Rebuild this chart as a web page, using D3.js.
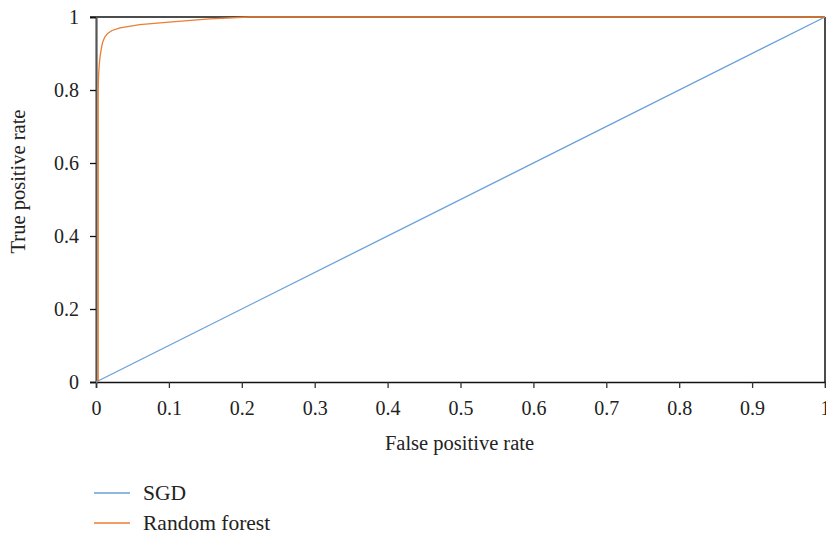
<!DOCTYPE html>
<html>
<head>
<meta charset="utf-8">
<script src="https://cdn.jsdelivr.net/npm/d3@7"></script>
<style>
  body { margin: 0; background: #fff; }
  svg text { font-family: "Liberation Serif", "DejaVu Serif", serif; fill: #222; }
</style>
</head>
<body>
<div id="chart"></div>
<script>
// ROC curves
var sgdFpr = [0, 1];
var sgdTpr = [0, 1];

var rfFpr = [0.003, 0.003, 0.0035, 0.0045, 0.0055, 0.007, 0.009, 0.012, 0.016, 0.022, 0.033, 0.06, 0.1, 0.156, 0.21, 1];
var rfTpr = [0, 0.8, 0.84, 0.87, 0.89, 0.91, 0.93, 0.945, 0.955, 0.963, 0.97, 0.979, 0.986, 0.995, 1, 1];

var xTicks = [0, 0.1, 0.2, 0.3, 0.4, 0.5, 0.6, 0.7, 0.8, 0.9, 1];
var yTicks = [0, 0.2, 0.4, 0.6, 0.8, 1];

var seriesNames = ["SGD", "Random forest"];
var seriesColors = ["#6a9fd8", "#ed7d31"];

var margin = { top: 17, right: 1, bottom: 155, left: 96 },
  width = 826 - margin.left - margin.right,
  height = 537 - margin.top - margin.bottom;

var svg = d3
  .select("#chart")
  .append("svg")
  .attr("width", 826)
  .attr("height", 537)
  .append("g")
  .attr("transform", "translate(" + margin.left + "," + margin.top + ")");

var x = d3.scaleLinear().domain([0, 1]).range([0, width]);
var y = d3.scaleLinear().domain([0, 1]).range([height, 0]);

// frame top and right
svg.append("line").attr("x1", -6).attr("x2", width).attr("y1", 0).attr("y2", 0)
  .attr("stroke", "#111").attr("stroke-width", 1.5);
svg.append("line").attr("x1", width).attr("x2", width).attr("y1", 0).attr("y2", height)
  .attr("stroke", "#111").attr("stroke-width", 1.5);

// X axis
var xAxis = svg
  .append("g")
  .attr("transform", "translate(0," + height + ")")
  .call(d3.axisBottom(x).tickValues(xTicks).tickSize(6).tickPadding(13)
    .tickFormat(function (d) { return d3.format("")(d); }));
xAxis.select(".domain").attr("stroke", "#111").attr("stroke-width", 1.5);
xAxis.selectAll(".tick line").attr("stroke", "#333").attr("stroke-width", 1.3);
xAxis.selectAll("text").style("font-size", "20px");

// Y axis
var yAxis = svg
  .append("g")
  .call(d3.axisLeft(y).tickValues(yTicks).tickSize(6).tickPadding(11)
    .tickFormat(function (d) { return d3.format("")(d); }));
yAxis.select(".domain").attr("stroke", "#555").attr("stroke-width", 2.2);
yAxis.selectAll(".tick line").attr("stroke", "#111").attr("stroke-width", 1.3);
yAxis.selectAll("text").style("font-size", "20px");

// axis labels
svg.append("text")
  .attr("text-anchor", "middle")
  .attr("x", width / 2 - 1)
  .attr("y", height + 68)
  .style("font-size", "20.5px")
  .text("False positive rate");

svg.append("text")
  .attr("text-anchor", "middle")
  .attr("transform", "rotate(-90)")
  .attr("x", -height / 2 + 18)
  .attr("y", -71)
  .style("font-size", "20.5px")
  .text("True positive rate");

var series = [
  d3.zip(sgdFpr, sgdTpr),
  d3.zip(rfFpr, rfTpr)
];

svg.selectAll(".roc")
  .data(series)
  .enter()
  .append("path")
  .attr("class", "roc")
  .attr("fill", "none")
  .attr("stroke", function (d, i) { return seriesColors[i]; })
  .attr("stroke-width", 1.3)
  .attr("d", d3.line()
    .x(function (d) { return x(d[0]); })
    .y(function (d) { return y(d[1]); })
    .curve(d3.curveLinear));

// legend
var legend = svg.selectAll(".legend")
  .data(seriesNames)
  .enter()
  .append("g")
  .attr("class", "legend")
  .attr("transform", function (d, i) { return "translate(-2," + (height + 111 + i * 30) + ")"; });

legend.append("line")
  .attr("x1", 0).attr("x2", 36)
  .attr("stroke", function (d, i) { return seriesColors[i]; })
  .attr("stroke-width", 1.3);

legend.append("text")
  .attr("x", 49)
  .attr("y", 7)
  .style("font-size", "21.5px")
  .text(function (d) { return d; });
</script>
</body>
</html>
